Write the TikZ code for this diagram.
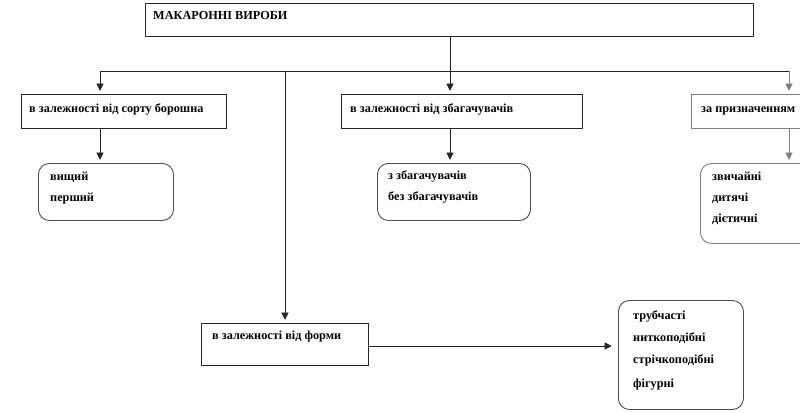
\documentclass[tikz,border=0pt]{standalone}
\usepackage{fontspec}
\setmainfont{Liberation Serif}
\usetikzlibrary{arrows.meta}
\tikzset{
  box/.style={draw=black!85, line width=0.9bp, rectangle, inner sep=0pt, anchor=north west},
  rbox/.style={draw=black!70, line width=0.9bp, rectangle, rounded corners=11bp, inner sep=0pt, anchor=north west},
  txt/.style={anchor=base west, inner sep=0pt, font=\fontsize{12.3}{14}\selectfont\bfseries},
  conn/.style={draw=black!85, line width=0.9bp},
  arr/.style={conn, -{Triangle[width=7bp,length=7.5bp]}, shorten >=3bp},
}
\begin{document}
\begin{tikzpicture}[x=1bp,y=-1bp]
\useasboundingbox (0,0) rectangle (800,412);
% boxes
\node[box, minimum width=608bp, minimum height=33bp] (top) at (145,3) {};
\node[box, minimum width=205bp, minimum height=34bp] (b1) at (21,94) {};
\node[box, minimum width=241bp, minimum height=34bp] (b2) at (341,94) {};
\node[box, draw=black!50, minimum width=140bp, minimum height=34bp] (b3) at (691,94) {};
\node[box, minimum width=167bp, minimum height=42bp] (b4) at (201,323) {};
\node[rbox, minimum width=135bp, minimum height=57bp] (r1) at (38,163) {};
\node[rbox, minimum width=153bp, minimum height=57bp] (r2) at (377,163) {};
\node[rbox, draw=black!50, minimum width=140bp, minimum height=80bp] (r3) at (700,163) {};
\node[rbox, minimum width=125bp, minimum height=109bp] (r4) at (618,300) {};
% texts
\node[txt] (ttop) at (153,19.5) {МАКАРОННІ ВИРОБИ};
\node[txt] (tb1) at (29,112) {в залежності від сорту борошна};
\node[txt] (tb2) at (350,112) {в залежності від збагачувачів};
\node[txt] (tb3) at (701,112) {за призначенням};
\node[txt] (tb4) at (212,339) {в залежності від форми};
\node[txt] (tr1a) at (50,180) {вищий};
\node[txt] (tr1b) at (50,201) {перший};
\node[txt] (tr2a) at (388,179) {з збагачувачів};
\node[txt] (tr2b) at (388,200) {без збагачувачів};
\node[txt] (tr3a) at (712,180) {звичайні};
\node[txt] (tr3b) at (712,201) {дитячі};
\node[txt] (tr3c) at (712,222) {дієтичні};
\node[txt] (tr4a) at (633,319) {трубчасті};
\node[txt] (tr4b) at (633,341) {ниткоподібні};
\node[txt] (tr4c) at (633,363) {стрічкоподібні};
\node[txt] (tr4d) at (633,387) {фігурні};
% connectors
\coordinate (hub) at (450,71);
\coordinate (hl) at (100,71);
\coordinate (hm) at (285,71);
\coordinate (hr) at (789,71);
\coordinate (fe) at (612,346);
\draw[conn] (top.south -| hub) -- (hub);
\draw[conn] (hl) -- (hr);
\draw[arr] (hl) -- (hl |- b1.north);
\draw[arr] (hub) -- (hub |- b2.north);
\draw[arr, draw=black!50] (hr) -- (hr |- b3.north);
\draw[arr] (hm) -- (hm |- b4.north);
\draw[arr] (hl |- b1.south) -- (hl |- r1.north);
\draw[arr] (hub |- b2.south) -- (hub |- r2.north);
\draw[arr, draw=black!50] (hr |- b3.south) -- (hr |- r3.north);
\draw[arr, shorten >=0pt] (b4.east |- fe) -- (fe);
\end{tikzpicture}
\end{document}
